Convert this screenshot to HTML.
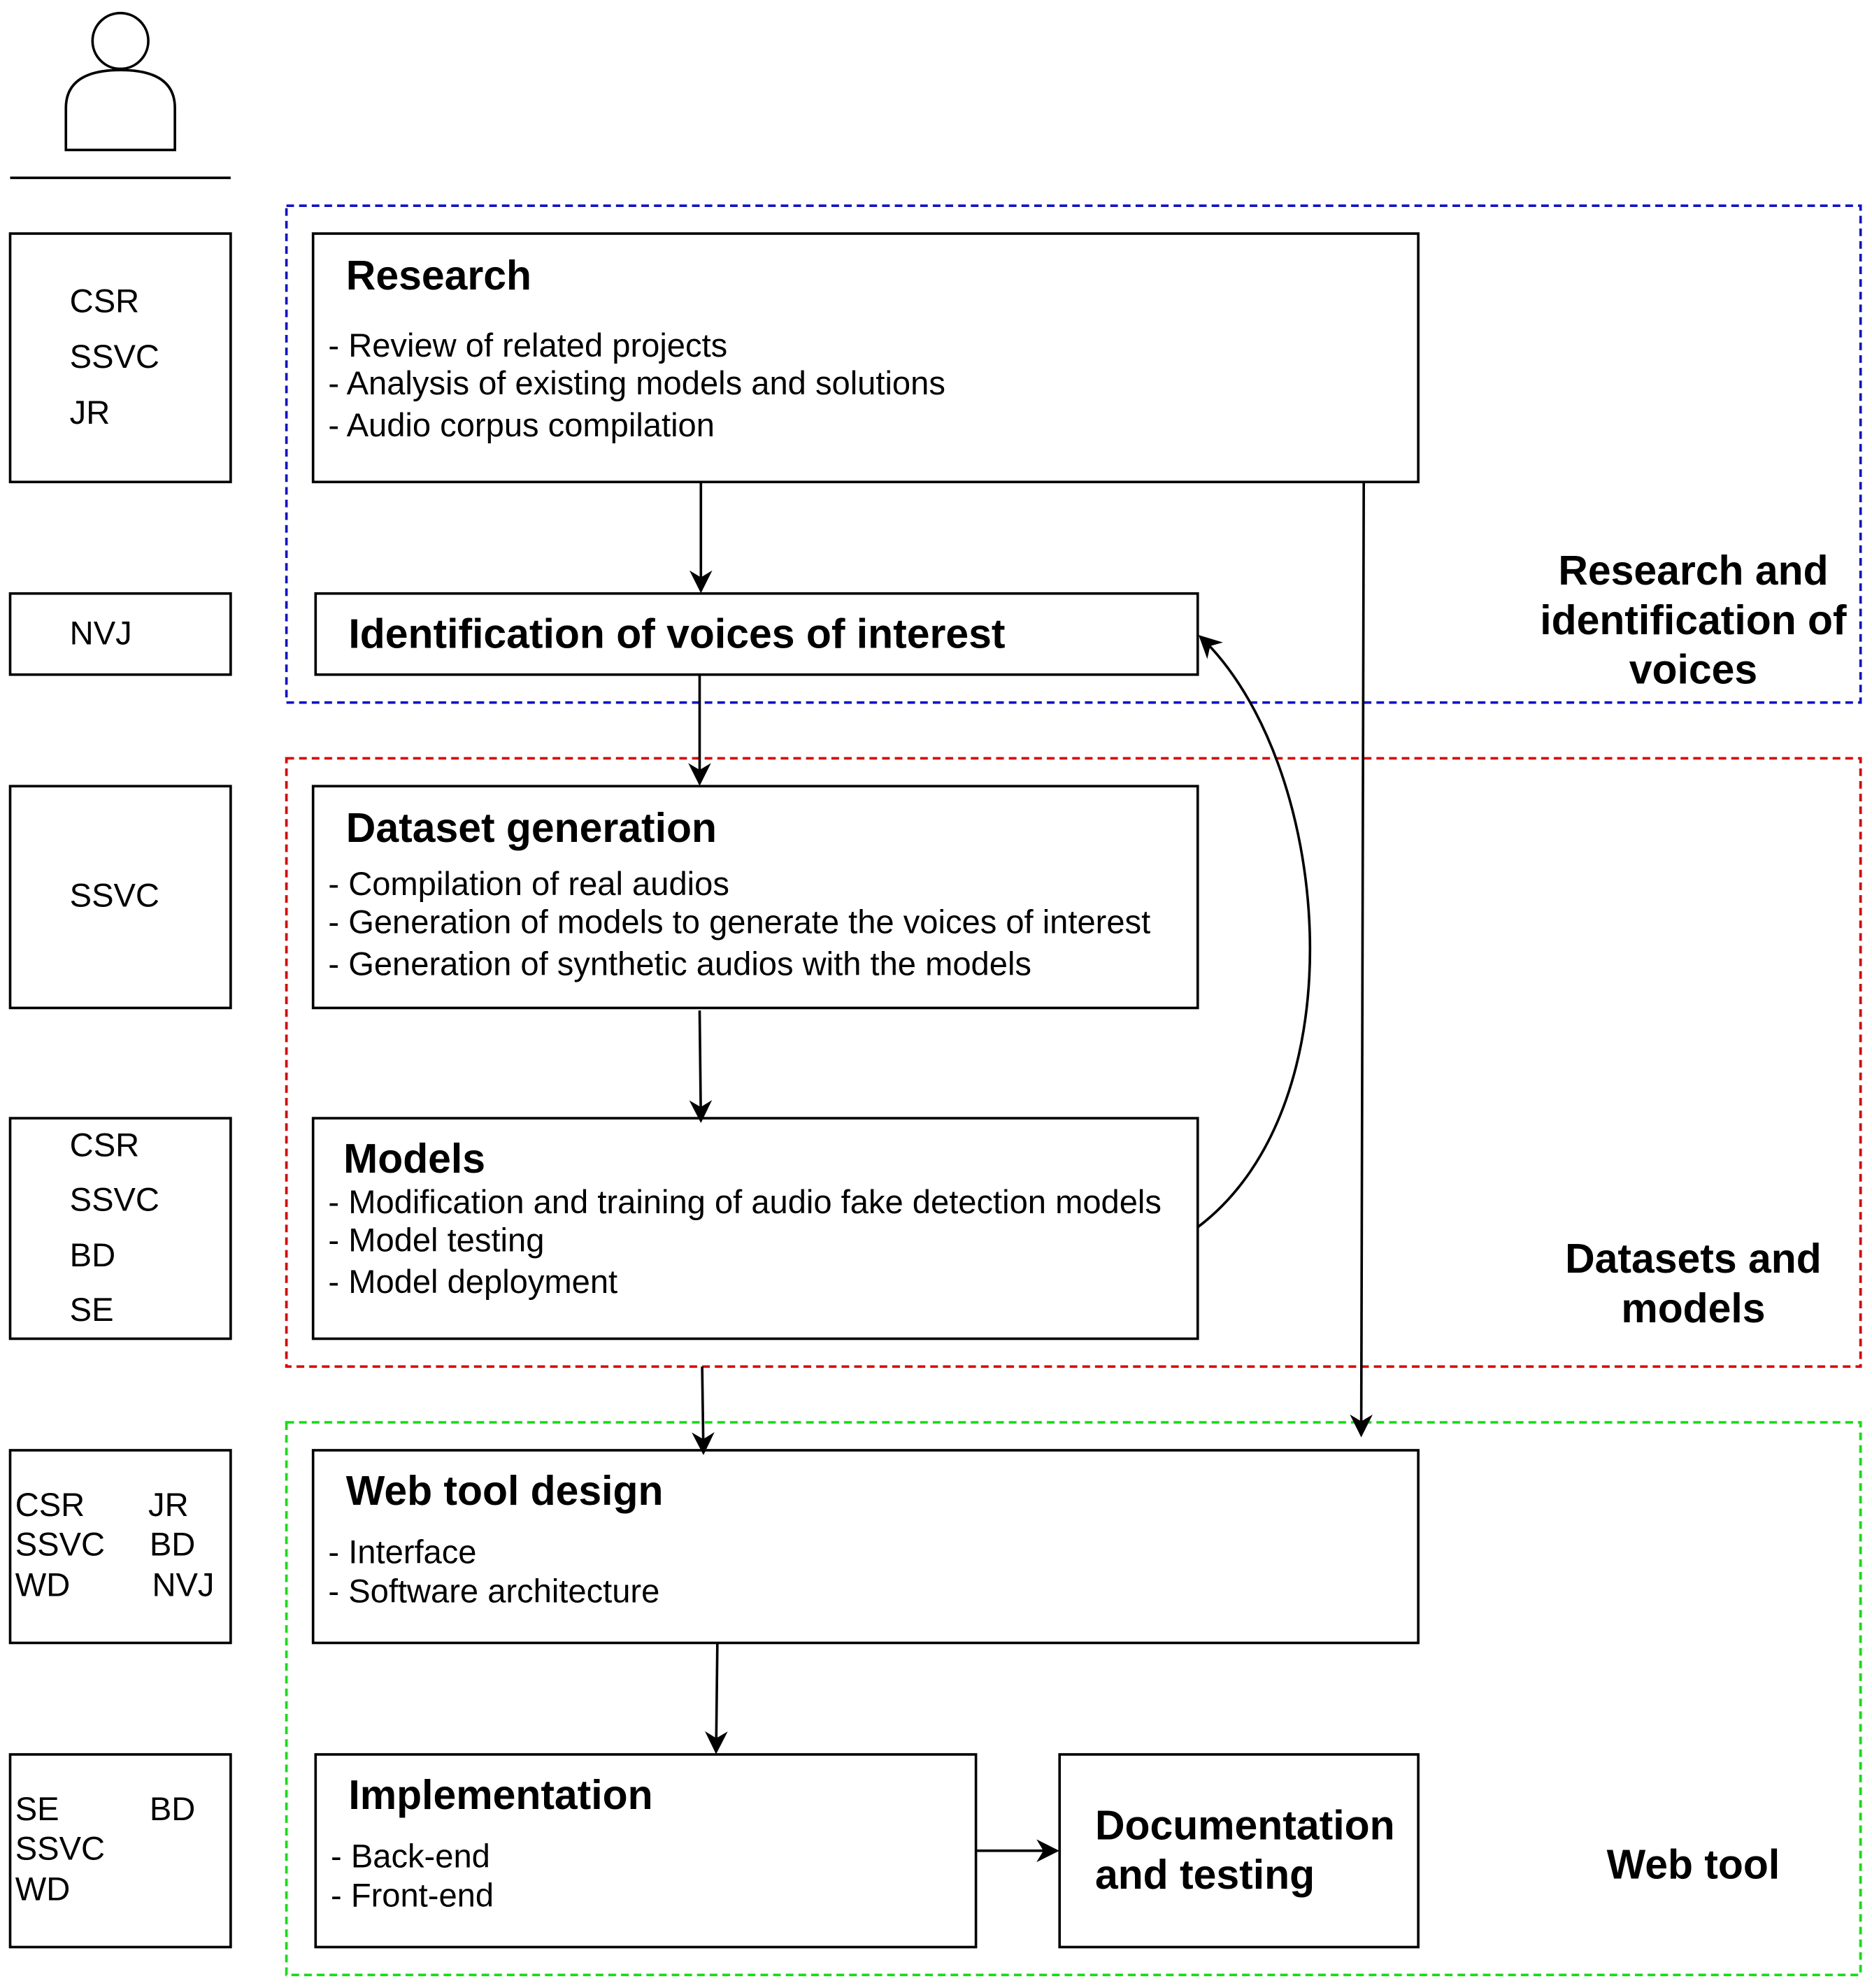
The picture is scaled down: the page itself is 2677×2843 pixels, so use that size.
<!DOCTYPE html>
<html><head><meta charset="utf-8"><style>html,body{margin:0;padding:0;background:#fff}svg{display:block}</style></head><body>
<svg xmlns="http://www.w3.org/2000/svg" width="2677" height="2843" viewBox="0 0 1477 1568" font-family="Liberation Sans, Arial, sans-serif">
<defs>
<marker id="b" viewBox="0 0 10 10" refX="9" refY="5" markerWidth="18" markerHeight="18" markerUnits="userSpaceOnUse" orient="auto"><path d="M0,0 L10,5 L0,10 L3,5 z" fill="#000"/></marker></defs>
<rect width="1477" height="1568" fill="#fff"/>
<g fill="none" stroke="#000" stroke-width="2">
<circle cx="95" cy="32" r="22"/>
<path d="M52,118 L52,85 Q52,55 95,55 Q138,55 138,85 L138,118 Z"/>
<line x1="8" y1="140" x2="182" y2="140"/>
<rect x="8" y="184" width="174" height="196"/>
<rect x="8" y="468" width="174" height="64"/>
<rect x="8" y="620" width="174" height="175"/>
<rect x="8" y="882" width="174" height="174"/>
<rect x="8" y="1144" width="174" height="152"/>
<rect x="8" y="1384" width="174" height="152"/>
<rect x="247" y="184" width="872" height="196"/>
<rect x="249" y="468" width="696" height="64"/>
<rect x="247" y="620" width="698" height="175"/>
<rect x="247" y="882" width="698" height="174"/>
<rect x="247" y="1144" width="872" height="152"/>
<rect x="249" y="1384" width="521" height="152"/>
<rect x="836" y="1384" width="283" height="152"/>
</g>
<g fill="none" stroke-width="2" stroke-dasharray="6,4">
<rect x="226" y="162" width="1242" height="392" stroke="#1010d0"/>
<rect x="226" y="598" width="1242" height="480" stroke="#e00000"/>
<rect x="226" y="1122" width="1242" height="436" stroke="#10e010"/>
</g>
<g stroke="#000" stroke-width="2" fill="none">
<line x1="553" y1="380" x2="553" y2="466" marker-end="url(#b)"/>
<line x1="552" y1="532" x2="552" y2="618" marker-end="url(#b)"/>
<line x1="552" y1="797" x2="553" y2="884" marker-end="url(#b)"/>
<line x1="554" y1="1078" x2="555" y2="1146" marker-end="url(#b)"/>
<line x1="1076" y1="380" x2="1074" y2="1132" marker-end="url(#b)"/>
<line x1="566" y1="1296" x2="565" y2="1382" marker-end="url(#b)"/>
<line x1="770" y1="1460" x2="834" y2="1460" marker-end="url(#b)"/>
<path d="M945,968 C1075,870 1050,600 947,502" marker-end="url(#b)"/>
</g>
<g font-size="26" fill="#000">
<text x="55" y="246">CSR</text><text x="55" y="290">SSVC</text><text x="55" y="334">JR</text>
<text x="55" y="508">NVJ</text>
<text x="55" y="715">SSVC</text>
<text x="55" y="912">CSR</text><text x="55" y="955">SSVC</text><text x="55" y="999">BD</text><text x="55" y="1042">SE</text>
<text x="12" y="1196">CSR</text><text x="117" y="1196">JR</text><text x="12" y="1227">SSVC</text><text x="118" y="1227">BD</text><text x="12" y="1259">WD</text><text x="120" y="1259">NVJ</text>
<text x="12" y="1436">SE</text><text x="118" y="1436">BD</text><text x="12" y="1467">SSVC</text><text x="12" y="1499">WD</text>
<text x="259" y="281">- Review of related projects</text>
<text x="259" y="311">- Analysis of existing models and solutions</text>
<text x="259" y="344">- Audio corpus compilation</text>
<text x="259" y="706">- Compilation of real audios</text>
<text x="259" y="736">- Generation of models to generate the voices of interest</text>
<text x="259" y="769">- Generation of synthetic audios with the models</text>
<text x="259" y="957">- Modification and training of audio fake detection models</text>
<text x="259" y="987">- Model testing</text>
<text x="259" y="1020">- Model deployment</text>
<text x="259" y="1233">- Interface</text>
<text x="259" y="1264">- Software architecture</text>
<text x="261" y="1473">- Back-end</text>
<text x="261" y="1504">- Front-end</text>
</g>
<g font-size="32.5" font-weight="bold" fill="#000">
<text x="273" y="228">Research</text>
<text x="275" y="511">Identification of voices of interest</text>
<text x="273" y="664">Dataset generation</text>
<text x="271" y="925">Models</text>
<text x="273" y="1187">Web tool design</text>
<text x="275" y="1427">Implementation</text>
<text x="864" y="1451">Documentation</text>
<text x="864" y="1490">and testing</text>
<g text-anchor="middle">
<text x="1336" y="461">Research and</text>
<text x="1336" y="500">identification of</text>
<text x="1336" y="539">voices</text>
<text x="1336" y="1004">Datasets and</text>
<text x="1336" y="1043">models</text>
<text x="1336" y="1482">Web tool</text>
</g>
</g>
</svg>
</body></html>
